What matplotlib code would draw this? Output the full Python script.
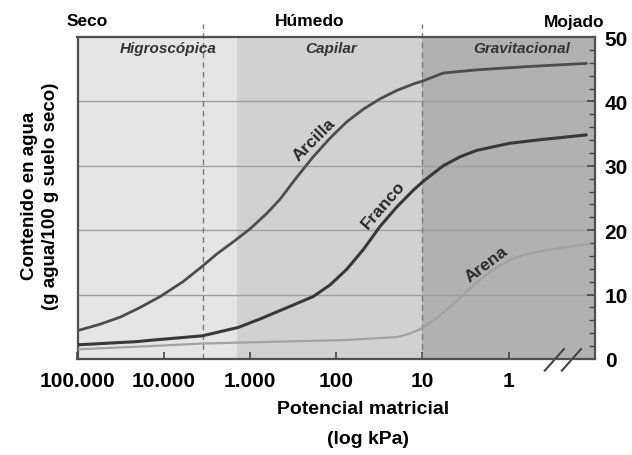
import numpy as np
import matplotlib
matplotlib.use("Agg")
import matplotlib.pyplot as plt
from matplotlib.ticker import FixedLocator, MultipleLocator

plt.rcParams["font.family"] = ["Liberation Sans", "DejaVu Sans"]
plt.rcParams["font.weight"] = "bold"

# water retention curves: matric potential (kPa) vs water content (g/100 g)
arcilla_kpa = [100000, 54800, 32000, 18800, 11000, 5990, 3570, 2430, 1560, 1000, 640, 449,
               288, 185, 118, 76, 48.5, 31, 19.9, 12.8, 9.8, 5.75, 2.34, 0.62, 0.126]
arcilla_w = [4.4, 5.4, 6.5, 8.0, 9.7, 12.0, 14.4, 16.3, 18.2, 20.2, 22.6, 24.8,
             28.2, 31.4, 34.3, 36.8, 38.8, 40.4, 41.7, 42.7, 43.2, 44.4, 44.9, 45.4, 45.9]

franco_kpa = [100000, 20500, 14400, 3570, 1370, 770, 400, 185, 118, 76, 48.5, 31,
              19.9, 12.8, 9.8, 5.75, 3.67, 2.34, 0.97, 0.40, 0.126]
franco_w = [2.2, 2.7, 2.9, 3.6, 4.9, 6.2, 7.8, 9.7, 11.5, 13.9, 17.0, 20.6,
            23.6, 26.2, 27.6, 30.0, 31.4, 32.4, 33.5, 34.1, 34.8]

arena_kpa = [100000, 14400, 3570, 449, 76, 19.9, 15.2, 11.6, 9.8, 6.8, 4.8, 3.4,
             2.36, 1.51, 0.97, 0.62, 0.33, 0.163, 0.115]
arena_w = [1.5, 2.0, 2.4, 2.7, 2.95, 3.4, 3.8, 4.4, 4.9, 6.4, 8.1, 9.9,
           11.9, 13.9, 15.4, 16.3, 17.0, 17.6, 17.9]

# zones (kPa)
x_min, x_max = 100000, 0.1
hygro_limit = 1400      # shade change
dash_limits = [3500, 10]
zones = [(x_min, hygro_limit, "#e5e5e5"), (hygro_limit, 10, "#d1d1d1"), (10, x_max, "#b1b1b1")]

tick_vals = [100000, 10000, 1000, 100, 10, 1]
tick_labels = ["100.000", "10.000", "1.000", "100", "10", "1"]

fig = plt.figure(figsize=(6.32, 4.56), dpi=100)
ax = fig.add_axes([77.5 / 632, 96 / 456, 517.5 / 632, 322 / 456])
ax.set_xscale("log")
ax.set_xlim(x_min, x_max)
ax.set_ylim(0, 50)

for a, b, c in zones:
    ax.axvspan(a, b, color=c, lw=0, zorder=0)
for yv in [10, 20, 30, 40]:
    ax.axhline(yv, color="#9e9e9e", lw=1.0, zorder=1)
for xv in dash_limits:
    ax.plot([xv, xv], [0, 52], color="#7a7a7a", lw=1.0, ls=(0, (4, 3)),
            clip_on=False, zorder=2)

ax.plot(arcilla_kpa, arcilla_w, color="#4d4d4d", lw=2.0, zorder=3,
        solid_capstyle="round", solid_joinstyle="round")
ax.plot(franco_kpa, franco_w, color="#383838", lw=2.2, zorder=3,
        solid_capstyle="round", solid_joinstyle="round")
ax.plot(arena_kpa, arena_w, color="#a2a2a2", lw=1.6, zorder=3,
        solid_capstyle="round", solid_joinstyle="round")

# curve labels
ax.text(181, 34.2, "Arcilla", rotation=45, ha="center", va="center",
        fontsize=12.5, color="#2a2a2a")
ax.text(28.5, 24.0, "Franco", rotation=49, ha="center", va="center",
        fontsize=12.5, color="#2a2a2a")
ax.text(1.8, 14.75, "Arena", rotation=37, ha="center", va="center",
        fontsize=12.5, color="#2a2a2a")

# zone labels
for xv, txt in [(8900, "Higroscópica"), (115, "Capilar"), (0.70, "Gravitacional")]:
    ax.text(xv, 48.3, txt, ha="center", va="center", fontsize=11,
            style="italic", color="#333333")

fig.text(67 / 632, 1 - 22 / 456, "Seco", ha="left", va="center", fontsize=12.5)
fig.text(310 / 632, 1 - 22 / 456, "Húmedo", ha="center", va="center", fontsize=12.5)
fig.text(604 / 632, 1 - 22 / 456, "Mojado", ha="right", va="center", fontsize=12.5)

# axes labels
fig.text(30 / 632, 1 - 196 / 456, "Contenido en agua", rotation=90,
         ha="center", va="center", fontsize=13.5)
fig.text(51 / 632, 1 - 196 / 456, "(g agua/100 g suelo seco)", rotation=90,
         ha="center", va="center", fontsize=13.5)
fig.text(363 / 632, 1 - 410 / 456, "Potencial matricial", ha="center",
         va="center", fontsize=14)
fig.text(368 / 632, 1 - 440 / 456, "(log kPa)", ha="center", va="center", fontsize=14)

# ticks
ax.xaxis.set_major_locator(FixedLocator(tick_vals))
ax.set_xticklabels(tick_labels)
ax.xaxis.set_minor_locator(FixedLocator([]))
ax.tick_params(axis="x", direction="in", length=5, width=1.2, color="#444444",
               labelsize=15, pad=9)
ax.yaxis.tick_right()
ax.yaxis.set_major_locator(MultipleLocator(10))
ax.yaxis.set_minor_locator(MultipleLocator(2))
ax.tick_params(axis="y", which="major", direction="in", length=6, width=1.2,
               color="#444444", labelsize=15, pad=7)
ax.tick_params(axis="y", which="minor", direction="in", length=4, width=1.0,
               color="#444444")
for lab in ax.get_xticklabels() + ax.get_yticklabels():
    lab.set_fontweight("bold")
for s in ax.spines.values():
    s.set_color("#505050")
    s.set_linewidth(1.6)

# axis break marks
for x0 in [0.903, 0.936]:
    ax.plot([x0, x0 + 0.037], [-0.036, 0.031], transform=ax.transAxes,
            color="#444444", lw=1.5, clip_on=False, zorder=5)

fig.savefig("out.png", dpi=100)
